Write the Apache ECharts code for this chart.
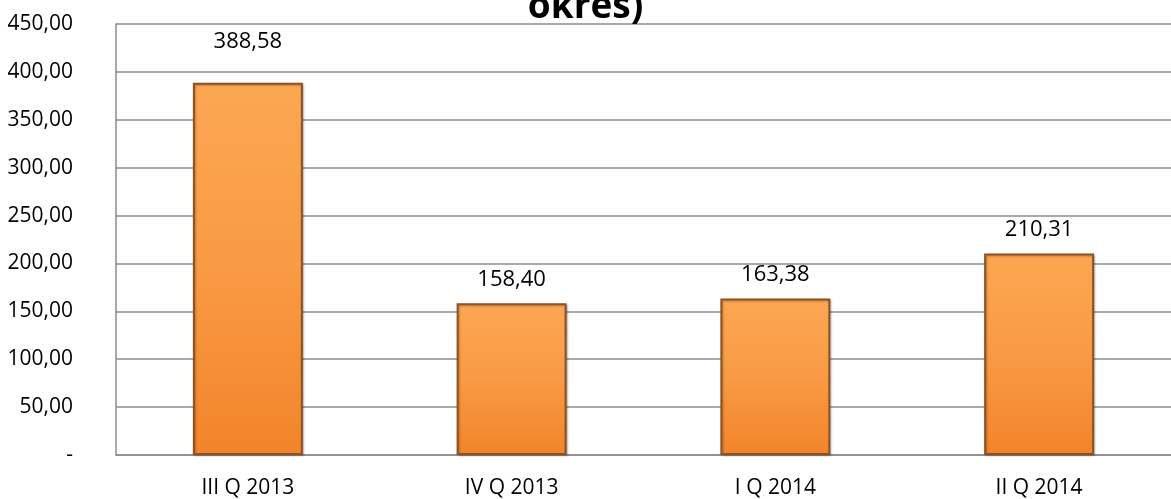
<!DOCTYPE html>
<html>
<head>
<meta charset="utf-8">
<script src="https://cdn.jsdelivr.net/npm/echarts@6/dist/echarts.min.js"></script>
<style>
  html, body { margin: 0; padding: 0; background: #fff; }
  #chart { width: 1171px; height: 499px; }
</style>
</head>
<body>
<div id="chart"></div>
<script>
const categories = ['III Q 2013', 'IV Q 2013', 'I Q 2014', 'II Q 2014'];
const values = [388.58, 158.40, 163.38, 210.31];
// label of the first bar sits higher in the original
const labelGaps = [30, 13, 13, 13];
const titleText = 'okres)';

function fmt(v) {
  if (v === 0) return '-';
  return v.toFixed(2).replace('.', ',');
}

const barColor = new echarts.graphic.LinearGradient(0, 0, 0, 1, [
  { offset: 0, color: '#fca753' },
  { offset: 0.5, color: '#f99a44' },
  { offset: 1, color: '#f2842a' }
]);

const chart = echarts.init(document.getElementById('chart'));
chart.setOption({
  animation: false,
  title: {
    text: titleText,
    left: 'center',
    top: -16,
    textStyle: { fontFamily: 'Open Sans', fontWeight: 'bold', fontSize: 37, color: '#000' }
  },
  grid: { left: 116, right: 0, top: 24, bottom: 42 },
  xAxis: {
    type: 'category',
    data: categories,
    axisLine: { lineStyle: { color: '#8c8c8c', width: 1.5 } },
    axisTick: { show: false },
    axisLabel: { fontFamily: 'Open Sans', fontSize: 21, color: '#000', margin: 23 }
  },
  yAxis: {
    type: 'value',
    min: 0,
    max: 450,
    interval: 50,
    axisLine: { show: true, lineStyle: { color: '#8c8c8c', width: 1.5 } },
    axisTick: { show: false },
    splitLine: { lineStyle: { color: '#8c8c8c', width: 1.5 } },
    axisLabel: { fontFamily: 'Open Sans', fontSize: 21, color: '#000', margin: 43, formatter: fmt }
  },
  series: [{
    type: 'bar',
    data: values.map((v, i) => ({ value: v, label: { distance: labelGaps[i] } })),
    barWidth: 110,
    itemStyle: {
      color: barColor,
      borderColor: '#8e5220',
      borderWidth: 2,
      shadowColor: 'rgba(0,0,0,0.25)',
      shadowBlur: 2,
      shadowOffsetX: 1,
      shadowOffsetY: 1
    },
    label: {
      show: true,
      position: 'top',
      fontFamily: 'Open Sans',
      fontSize: 22,
      color: '#000',
      formatter: p => fmt(p.value)
    }
  }]
});
</script>
</body>
</html>
